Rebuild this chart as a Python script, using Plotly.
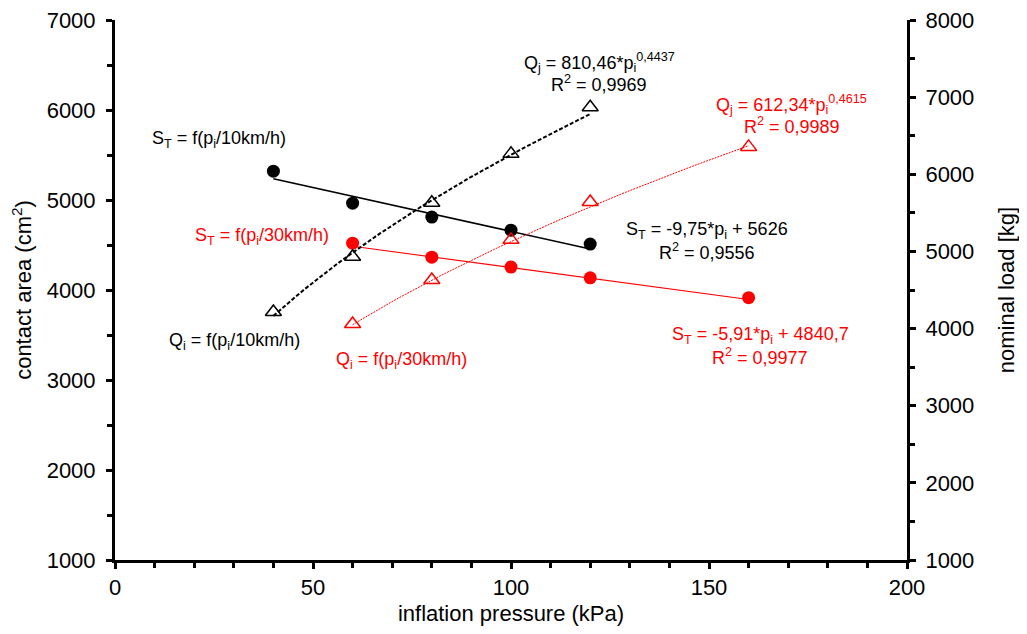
import numpy as np
import plotly.graph_objects as go

# ---- data ----
p_10 = [40, 60, 80, 100, 120]
st_10 = [5320, 4965, 4810, 4665, 4510]          # contact area, 10 km/h (left axis)
q_10 = [4215, 4930, 5630, 6265, 6870]           # nominal load, 10 km/h (right axis)

p_30 = [60, 80, 100, 120, 160]
st_30 = [4520, 4365, 4255, 4135, 3915]          # contact area, 30 km/h (left axis)
q_30 = [4060, 4630, 5150, 5640, 6355]           # nominal load, 30 km/h (right axis)

# trend-line coefficients shown on the chart
st10_fit = (-9.75, 5626.0)
st30_fit = (-5.91, 4840.7)
q10_fit = (810.46, 0.4437)
q30_fit = (612.34, 0.4615)

x_ticks = [0, 50, 100, 150, 200]
y_left_ticks = [1000, 2000, 3000, 4000, 5000, 6000, 7000]
y_right_ticks = [1000, 2000, 3000, 4000, 5000, 6000, 7000, 8000]

FONT = "Arial, Liberation Sans, sans-serif"
RED = "#ff0000"
BLACK = "#000000"

fig = go.Figure()

def lin(xs, c):
    xs = np.asarray(xs, float)
    return c[0] * xs + c[1]

def powr(xs, c):
    xs = np.asarray(xs, float)
    return c[0] * xs ** c[1]

xl10 = np.array([min(p_10), max(p_10)], float)
xl30 = np.array([min(p_30), max(p_30)], float)
xc10 = np.linspace(min(p_10), max(p_10), 60)
xc30 = np.linspace(min(p_30), max(p_30), 60)

fig.add_trace(go.Scatter(x=xl10, y=lin(xl10, st10_fit), mode="lines",
                         line=dict(color=BLACK, width=1.6), yaxis="y", hoverinfo="skip"))
fig.add_trace(go.Scatter(x=xl30, y=lin(xl30, st30_fit), mode="lines",
                         line=dict(color=RED, width=1.1), yaxis="y", hoverinfo="skip"))
fig.add_trace(go.Scatter(x=xc10, y=powr(xc10, q10_fit), mode="lines",
                         line=dict(color=BLACK, width=2, dash="4px,2px"), yaxis="y2", hoverinfo="skip"))
fig.add_trace(go.Scatter(x=xc30, y=powr(xc30, q30_fit), mode="lines",
                         line=dict(color=RED, width=1, dash="2px,1px"), yaxis="y2", hoverinfo="skip"))

fig.add_trace(go.Scatter(x=p_10, y=st_10, mode="markers", yaxis="y",
                         marker=dict(symbol="circle", size=13, color=BLACK)))
fig.add_trace(go.Scatter(x=p_30, y=st_30, mode="markers", yaxis="y",
                         marker=dict(symbol="circle", size=13, color=RED)))
fig.add_trace(go.Scatter(x=p_10, y=q_10, mode="markers", yaxis="y2",
                         marker=dict(symbol="triangle-up-open", size=14, color=BLACK,
                                     line=dict(width=1.5, color=BLACK))))
fig.add_trace(go.Scatter(x=p_30, y=q_30, mode="markers", yaxis="y2",
                         marker=dict(symbol="triangle-up-open", size=14, color=RED,
                                     line=dict(width=1.5, color=RED))))

ann = [
    ("S<sub>T</sub> = f(p<sub>i</sub>/10km/h)", 26.3, 5667, BLACK),
    ("S<sub>T</sub> = f(p<sub>i</sub>/30km/h)", 37.0, 4600, RED),
    ("Q<sub>j</sub> = 810,46*p<sub>i</sub><sup>0,4437</sup>", 122.3, 6533, BLACK),
    ("R<sup>2</sup> = 0,9969", 122.3, 6300, BLACK),
    ("Q<sub>j</sub> = 612,34*p<sub>i</sub><sup>0,4615</sup>", 170.9, 6056, RED),
    ("R<sup>2</sup> = 0,9989", 170.9, 5830, RED),
    ("S<sub>T</sub> = -9,75*p<sub>i</sub> + 5626", 149.6, 4656, BLACK),
    ("R<sup>2</sup> = 0,9556", 149.6, 4425, BLACK),
    ("S<sub>T</sub> = -5,91*p<sub>i</sub> + 4840,7", 163.0, 3500, RED),
    ("R<sup>2</sup> = 0,9977", 163.0, 3260, RED),
    ("Q<sub>i</sub> = f(p<sub>i</sub>/10km/h)", 30.1, 3433, BLACK),
    ("Q<sub>i</sub> = f(p<sub>i</sub>/30km/h)", 72.4, 3222, RED),
]
for t, x, y, c in ann:
    fig.add_annotation(text=t, x=x, y=y, xref="x", yref="y", showarrow=False,
                       xanchor="center", yanchor="middle",
                       font=dict(family=FONT, size=18, color=c))

axis_common = dict(showgrid=False, zeroline=False, showline=True, linecolor=BLACK,
                   linewidth=3, ticks="outside", ticklen=6, tickwidth=2.5, tickcolor=BLACK,
                   automargin=False, ticklabeloverflow="allow",
                   tickfont=dict(family=FONT, size=22, color="#000000"))
minor_common = dict(ticks="outside", ticklen=5, tickwidth=2.5, tickcolor=BLACK)

# the page body adds an 8px margin, so the figure is sized to fit inside it
fig.update_layout(
    width=1011, height=618,
    margin=dict(l=107, r=112, t=12, b=66),
    paper_bgcolor="white", plot_bgcolor="white",
    showlegend=False,
    xaxis=dict(range=[0, 200], tickvals=x_ticks, minor=dict(dtick=10, **minor_common),
               title=dict(text="inflation pressure (kPa)", font=dict(family=FONT, size=22, color=BLACK),
                          standoff=17),
               **axis_common),
    yaxis=dict(range=[1000, 7000], tickvals=y_left_ticks, minor=dict(dtick=500, **minor_common),
               ticklabelstandoff=6,
               title=dict(text="contact area (cm<sup>2</sup>)", font=dict(family=FONT, size=22, color=BLACK),
                          standoff=14),
               **axis_common),
    yaxis2=dict(range=[1000, 8000], tickvals=y_right_ticks, overlaying="y", side="right",
                minor=dict(dtick=500, **minor_common), ticklabelstandoff=5,
                title=dict(text="nominal load [kg]", font=dict(family=FONT, size=22, color=BLACK),
                           standoff=31),
                **axis_common),
)

fig.write_html("out.html")
